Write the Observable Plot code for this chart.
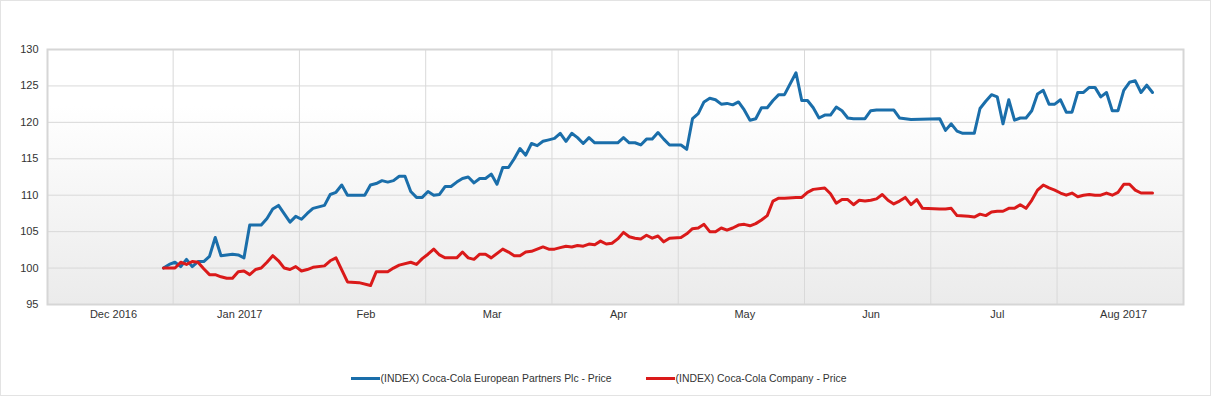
<!DOCTYPE html>
<html><head><meta charset="utf-8">
<script src="https://cdn.jsdelivr.net/npm/d3@7"></script>
<script src="https://cdn.jsdelivr.net/npm/@observablehq/plot@0.6"></script>
<style>
body{margin:0;background:#fff;font-family:"Liberation Sans",Arial,sans-serif;}
#wrap{position:relative;width:1209px;height:394px;overflow:hidden;border:1px solid #e3e3e3;}
.legend{display:flex;justify-content:center;gap:34px;font-size:10.4px;color:#333;margin-top:32px;padding-right:14px;}
.item{display:flex;align-items:center;white-space:nowrap}
.sw{width:29px;height:3px;margin-right:1px}
</style></head><body>
<div id="wrap"><div id="chart"></div><div class="legend" id="legend"></div></div>
<script>
// ---- data (trading-day index, indexed value) ----
const seriesNames = ["(INDEX) Coca-Cola European Partners Plc - Price", "(INDEX) Coca-Cola Company - Price"];
const seriesColors = ["#1a6eaa", "#da1a1a"];

const blueDay = [0,1,2,3,4,5,6,7,8,9,10,11,12,13,14,15,17,18,19,20,22,23,24,25,26,27,28,29,30,31,32,35,36,37,38,39,40,41,42,43,44,45,46,47,48,49,50,51,52,53,54,55,56,57,58,59,60,61,62,63,64,65,66,67,68,69,70,71,72,73,74,75,79,80,81,82,83,84,85,86,87,88,90,91,92,93,94,95,96,97,98,99,100,101,102,103,104,105,106,107,108,110,111,112,113,114,115,116,117,118,119,120,122,123,124,127,128,130,135,136,137,138,139,141,142,143,144,145,146,147,148,149,150,151,152,153,154,155,156,157,158,159,160,161,162,163,164,165,166,167,168,169,170,171,172];
const blueVal = [100.0,100.5,100.8,100.2,101.2,100.2,100.9,100.9,101.6,104.2,101.7,101.8,101.9,101.8,101.4,105.9,105.9,106.8,108.1,108.6,106.3,107.1,106.7,107.5,108.2,108.4,108.6,110.1,110.4,111.4,110.0,110.0,111.4,111.6,112.0,111.8,112.0,112.6,112.6,110.5,109.7,109.7,110.5,110.0,110.1,111.2,111.2,111.8,112.3,112.5,111.7,112.3,112.3,112.9,111.5,113.8,113.8,115.0,116.4,115.5,117.1,116.8,117.4,117.6,117.8,118.5,117.4,118.5,117.9,117.1,117.9,117.2,117.2,117.9,117.2,117.2,116.9,117.7,117.7,118.6,117.7,116.9,116.9,116.3,120.5,121.2,122.8,123.3,123.1,122.5,122.6,122.4,122.8,121.7,120.3,120.5,122.0,122.0,123.0,123.8,123.8,126.8,123.0,123.0,122.0,120.6,121.0,121.0,122.1,121.6,120.6,120.5,120.5,121.6,121.7,121.7,120.6,120.4,120.5,118.9,119.8,118.8,118.5,118.5,121.9,122.9,123.8,123.5,119.8,123.1,120.3,120.6,120.6,121.6,123.9,124.4,122.5,122.5,123.1,121.4,121.4,124.1,124.1,124.8,124.8,123.5,124.1,121.6,121.6,124.4,125.5,125.7,124.1,125.1,124.1];

const redDay = [0,2,3,4,5,6,7,8,9,10,11,12,13,14,15,16,17,18,19,20,21,22,23,24,25,26,28,29,30,32,34,36,37,39,40,41,43,44,45,46,47,48,49,51,52,53,54,55,56,57,59,60,61,62,63,64,65,66,67,68,69,70,71,72,73,74,75,76,77,78,79,80,81,82,83,84,85,86,87,88,90,91,92,93,94,95,96,97,98,99,100,101,102,103,104,105,106,107,108,110,111,112,113,115,116,117,118,119,120,121,122,123,124,125,126,127,128,129,130,131,132,135,136,137,138,140,141,142,143,144,145,146,147,148,149,150,151,152,153,154,155,156,157,158,159,160,161,162,163,164,165,166,167,168,169,170,172];
const redVal = [100.0,100.0,100.8,100.5,100.9,100.8,99.9,99.1,99.1,98.8,98.6,98.6,99.5,99.6,99.1,99.8,100.0,100.8,101.7,101.0,100.0,99.8,100.2,99.6,99.8,100.1,100.3,101.0,101.4,98.1,98.0,97.6,99.5,99.5,100.0,100.4,100.8,100.5,101.3,101.9,102.6,101.8,101.4,101.4,102.2,101.4,101.2,101.9,101.9,101.4,102.6,102.2,101.7,101.7,102.2,102.3,102.6,102.9,102.6,102.6,102.8,103.0,102.9,103.1,103.0,103.3,103.2,103.7,103.3,103.4,104.0,104.9,104.3,104.1,104.0,104.5,104.1,104.4,103.6,104.1,104.2,104.7,105.4,105.5,106.0,105.0,105.0,105.5,105.2,105.5,105.9,106.0,105.8,106.1,106.6,107.2,109.2,109.6,109.6,109.7,109.7,110.4,110.8,111.0,110.2,108.9,109.4,109.4,108.7,109.3,109.2,109.3,109.5,110.1,109.3,108.8,109.2,109.7,108.7,109.4,108.2,108.1,108.1,108.2,107.2,107.1,107.0,107.4,107.2,107.7,107.8,107.8,108.2,108.2,108.7,108.2,109.3,110.7,111.4,111.0,110.7,110.3,110.0,110.3,109.8,110.0,110.1,110.0,110.0,110.3,110.0,110.4,111.5,111.5,110.7,110.3,110.3];

const monthLabels = ["Dec 2016","Jan 2017","Feb","Mar","Apr","May","Jun","Jul","Aug 2017"];
const yTicks = [95,100,105,110,115,120,125,130];

// ---- axis layout (in trading-day units) ----
const firstLabelDay = -8.7, daysPerMonth = 21.96, gridShift = -11.58;
const labelDays = monthLabels.map((_, i) => +(firstLabelDay + i * daysPerMonth).toFixed(3));
const gridDays = labelDays.slice(1).map(d => d + gridShift);
const labelByDay = new Map(labelDays.map((d, i) => [d, monthLabels[i]]));

const rows = [];
blueDay.forEach((d, i) => rows.push({series: seriesNames[0], day: d, value: blueVal[i]}));
redDay.forEach((d, i) => rows.push({series: seriesNames[1], day: d, value: redVal[i]}));

const font = '"Liberation Sans", Arial, sans-serif';
const chart = Plot.plot({
  width: 1209, height: 340,
  marginLeft: 46, marginRight: 27, marginTop: 48, marginBottom: 37,
  style: {fontFamily: font, fontSize: "11px", color: "#333", background: "transparent"},
  x: {type: "linear", domain: [-20.17, 177.39], label: null},
  y: {domain: [95, 130], label: null},
  color: {domain: seriesNames, range: seriesColors},
  marks: [
    Plot.frame({fill: "url(#bggrad)", stroke: "none"}),
    Plot.gridY(yTicks, {stroke: "#d9d9d9", strokeOpacity: 1, strokeWidth: 1}),
    Plot.gridX(gridDays, {stroke: "#d9d9d9", strokeOpacity: 1, strokeWidth: 1}),
    Plot.frame({stroke: "#d6d6d6", strokeWidth: 2}),
    Plot.axisY(yTicks, {tickSize: 0, tickPadding: 9, fontSize: 11, fill: "#333", label: null}),
    Plot.axisX(labelDays, {tickSize: 0, tickPadding: 6, fontSize: 11, fill: "#333", label: null, tickFormat: d => labelByDay.get(d)}),
    Plot.line(rows, {x: "day", y: "value", z: "series", stroke: "series", strokeWidth: 3, strokeLinejoin: "round", strokeLinecap: "round"})
  ]
});
const svg = d3.select(chart);
const defs = svg.insert("defs", ":first-child");
const g = defs.append("linearGradient").attr("id", "bggrad").attr("x1", 0).attr("y1", 0).attr("x2", 0).attr("y2", 1);
g.append("stop").attr("offset", "0%").attr("stop-color", "#ffffff");
g.append("stop").attr("offset", "22%").attr("stop-color", "#ffffff");
g.append("stop").attr("offset", "100%").attr("stop-color", "#ebebeb");
document.getElementById("chart").appendChild(chart);

const legend = document.getElementById("legend");
seriesNames.forEach((n, i) => {
  const it = document.createElement("div"); it.className = "item";
  const sw = document.createElement("span"); sw.className = "sw"; sw.style.background = seriesColors[i];
  const tx = document.createElement("span"); tx.textContent = n;
  it.appendChild(sw); it.appendChild(tx); legend.appendChild(it);
});
</script>
</body></html>
